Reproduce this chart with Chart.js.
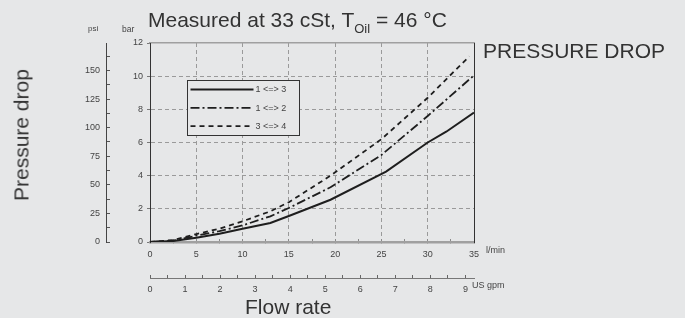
<!DOCTYPE html>
<html>
<head>
<meta charset="utf-8">
<script src="https://cdn.jsdelivr.net/npm/chart.js@4/dist/chart.umd.min.js"></script>
<style>
  html, body { margin: 0; padding: 0; background: #e6e7e8; }
  #wrap { position: relative; width: 685px; height: 318px; overflow: hidden; font-family: "Liberation Sans", Arial, sans-serif; color: #333; }
  canvas { position: absolute; left: 0; top: 0; }
  .t { position: absolute; white-space: nowrap; line-height: 1; }
</style>
</head>
<body>
<div id="wrap">
  <canvas id="c" width="685" height="318"></canvas>
  <div class="t" style="left:148px; top:9px; font-size:21px;">Measured at 33 cSt, T<span style="font-size:13px; position:relative; top:6px;">Oil</span> = 46 °C</div>
  <div class="t" style="left:483px; top:40px; font-size:21px;">PRESSURE DROP</div>
  <div class="t" style="left:88px; top:25px; font-size:8px; color:#444;">psi</div>
  <div class="t" style="left:122px; top:25px; font-size:8.5px; color:#444;">bar</div>
  <div class="t" style="left:486px; top:246px; font-size:9px; color:#444;">l/min</div>
  <div class="t" style="left:472px; top:281px; font-size:9px; color:#444;">US gpm</div>
  <div class="t" style="left:245px; top:296px; font-size:21px;">Flow rate</div>
  <div class="t" style="left:21px; top:135px; font-size:21px; transform: translate(-50%,-50%) rotate(-90deg);">Pressure drop</div>
</div>
<script>
// ---- data ----
const seriesLabels = ["1 <=> 3", "1 <=> 2", "3 <=> 4"];
const flow13 = [0, 2.5, 5, 7.5, 10, 13, 15, 19.5, 25.5, 30, 32, 35];
const dp13   = [0, 0.06, 0.26, 0.5, 0.8, 1.15, 1.57, 2.55, 4.25, 6.0, 6.65, 7.8];
const flow12 = [0, 2.5, 5, 7.5, 10, 13, 15, 19.5, 25, 30, 35];
const dp12   = [0, 0.08, 0.38, 0.65, 1.0, 1.55, 2.05, 3.3, 5.25, 7.6, 10.05];
const flow34 = [0, 2.5, 5, 7.5, 10, 13, 15, 19.5, 25, 30, 34.5];
const dp34   = [0, 0.12, 0.48, 0.8, 1.25, 1.85, 2.4, 4.0, 6.2, 8.7, 11.2];
const barTicks = [0, 2, 4, 6, 8, 10, 12];
const psiTicks = [0, 25, 50, 75, 100, 125, 150];
const lminTicks = [0, 5, 10, 15, 20, 25, 30, 35];
const gpmTicks = [0, 1, 2, 3, 4, 5, 6, 7, 8, 9];

const BAR_TO_PSI = 14.5038;
const GPM_TO_LMIN = 3.785411784;
const X_MAX = 35, Y_MAX = 12;

const pts = (xs, ys) => xs.map((x, i) => ({x: x, y: ys[i]}));
const FONT = "'Liberation Sans', Arial, sans-serif";
const TXT = '#444';
const GRID = '#9a9a9a';

const legendPlugin = {
  id: 'boxLegend',
  afterDraw(chart) {
    const ctx = chart.ctx, a = chart.chartArea;
    const x0 = a.left + 37.5, y0 = a.top + 37.5, w = 112, h = 55;
    ctx.save();
    ctx.fillStyle = '#e6e7e8';
    ctx.fillRect(x0, y0, w, h);
    ctx.strokeStyle = '#333'; ctx.lineWidth = 1;
    ctx.strokeRect(x0, y0, w, h);
    chart.data.datasets.forEach((ds, i) => {
      const y = y0 + 9 + i * 18.3;
      ctx.beginPath();
      ctx.setLineDash(ds.borderDash || []);
      ctx.lineWidth = ds.borderWidth; ctx.strokeStyle = ds.borderColor;
      ctx.moveTo(x0 + 3, y); ctx.lineTo(x0 + 66, y); ctx.stroke();
      ctx.setLineDash([]);
      ctx.fillStyle = TXT; ctx.font = "9px " + FONT;
      ctx.textBaseline = 'middle'; ctx.textAlign = 'left';
      ctx.fillText(ds.label, x0 + 68, y + 0.5);
    });
    ctx.restore();
  }
};

new Chart(document.getElementById('c'), {
  type: 'line',
  data: {
    datasets: [
      { label: seriesLabels[0], data: pts(flow13, dp13), borderColor: '#1e1e1e', borderWidth: 2, borderDash: [] },
      { label: seriesLabels[1], data: pts(flow12, dp12), borderColor: '#1e1e1e', borderWidth: 1.8, borderDash: [9, 3, 2, 3] },
      { label: seriesLabels[2], data: pts(flow34, dp34), borderColor: '#1e1e1e', borderWidth: 1.8, borderDash: [5, 4] }
    ]
  },
  options: {
    responsive: false,
    animation: false,
    events: [],
    layout: { padding: { left: 70, top: 43, right: 211, bottom: 20 } },
    elements: { point: { radius: 0 }, line: { tension: 0, fill: false } },
    plugins: { legend: { display: false }, tooltip: { enabled: false }, title: { display: false } },
    scales: {
      x: {
        type: 'linear', position: 'bottom', min: 0, max: X_MAX, weight: 0,
        afterBuildTicks: s => { const t = []; for (let v = 0; v <= X_MAX + 1e-9; v += 2.5) t.push({value: v}); s.ticks = t; },
        afterFit: s => { s.height = 36; },
        ticks: { autoSkip: false, maxRotation: 0, padding: 10, color: TXT, font: { size: 9, family: FONT },
          callback: v => lminTicks.includes(v) ? String(v) : '' },
        grid: { drawTicks: true, tickLength: -3, tickColor: '#8a8a8a', tickWidth: 1,
          color: c => (c.tick && lminTicks.includes(c.tick.value) && c.tick.value > 0 && c.tick.value < X_MAX) ? GRID : 'rgba(0,0,0,0)' },
        border: { display: true, color: '#a0a0a0', width: 2.5, dash: [4, 3] }
      },
      x2: {
        type: 'linear', position: 'bottom', min: 0, max: X_MAX / GPM_TO_LMIN, weight: 1,
        afterBuildTicks: s => { const t = []; for (let v = 0; v <= s.max + 1e-9; v += 0.5) t.push({value: v}); s.ticks = t; },
        afterFit: s => { s.height = 20; },
        ticks: { autoSkip: false, maxRotation: 0, padding: 9, color: TXT, font: { size: 9, family: FONT },
          callback: v => gpmTicks.includes(v) ? String(v) : '' },
        grid: { drawOnChartArea: false, drawTicks: true, tickLength: -3, tickColor: '#666', color: '#666' },
        border: { display: true, color: '#777', width: 1 }
      },
      top: {
        type: 'linear', position: 'top', min: 0, max: X_MAX,
        afterFit: s => { s.height = 0; },
        ticks: { display: false },
        grid: { drawOnChartArea: false, drawTicks: false },
        border: { display: true, color: '#a0a0a0', width: 1.5 }
      },
      y: {
        type: 'linear', position: 'left', min: 0, max: Y_MAX, weight: 0,
        afterBuildTicks: s => { s.ticks = barTicks.map(v => ({value: v})); },
        afterFit: s => { s.width = 44; },
        ticks: { padding: 4, color: TXT, font: { size: 9, family: FONT } },
        grid: { drawTicks: true, tickLength: 3, tickColor: '#777',
          color: c => (c.tick && c.tick.value > 0 && c.tick.value < Y_MAX) ? GRID : 'rgba(0,0,0,0)' },
        border: { display: true, color: '#333', width: 1, dash: [4, 3] }
      },
      right: {
        type: 'linear', position: 'right', min: 0, max: Y_MAX,
        afterFit: s => { s.width = 0; },
        ticks: { display: false },
        grid: { drawOnChartArea: false, drawTicks: false },
        border: { display: true, color: '#333', width: 1 }
      },
      y2: {
        type: 'linear', position: 'left', min: 0, max: Y_MAX * BAR_TO_PSI, weight: 1,
        afterBuildTicks: s => { const t = []; for (let v = 0; v <= 162.5 + 1e-9; v += 12.5) t.push({value: v}); s.ticks = t; },
        afterFit: s => { s.width = 36; },
        ticks: { autoSkip: false, padding: 10, color: TXT, font: { size: 9, family: FONT },
          callback: v => psiTicks.includes(v) ? String(v) : '' },
        grid: { drawOnChartArea: false, drawTicks: true, tickLength: -4, tickColor: '#555', color: '#555' },
        border: { display: true, color: '#444', width: 1 }
      }
    }
  },
  plugins: [legendPlugin]
});
</script>
</body>
</html>
